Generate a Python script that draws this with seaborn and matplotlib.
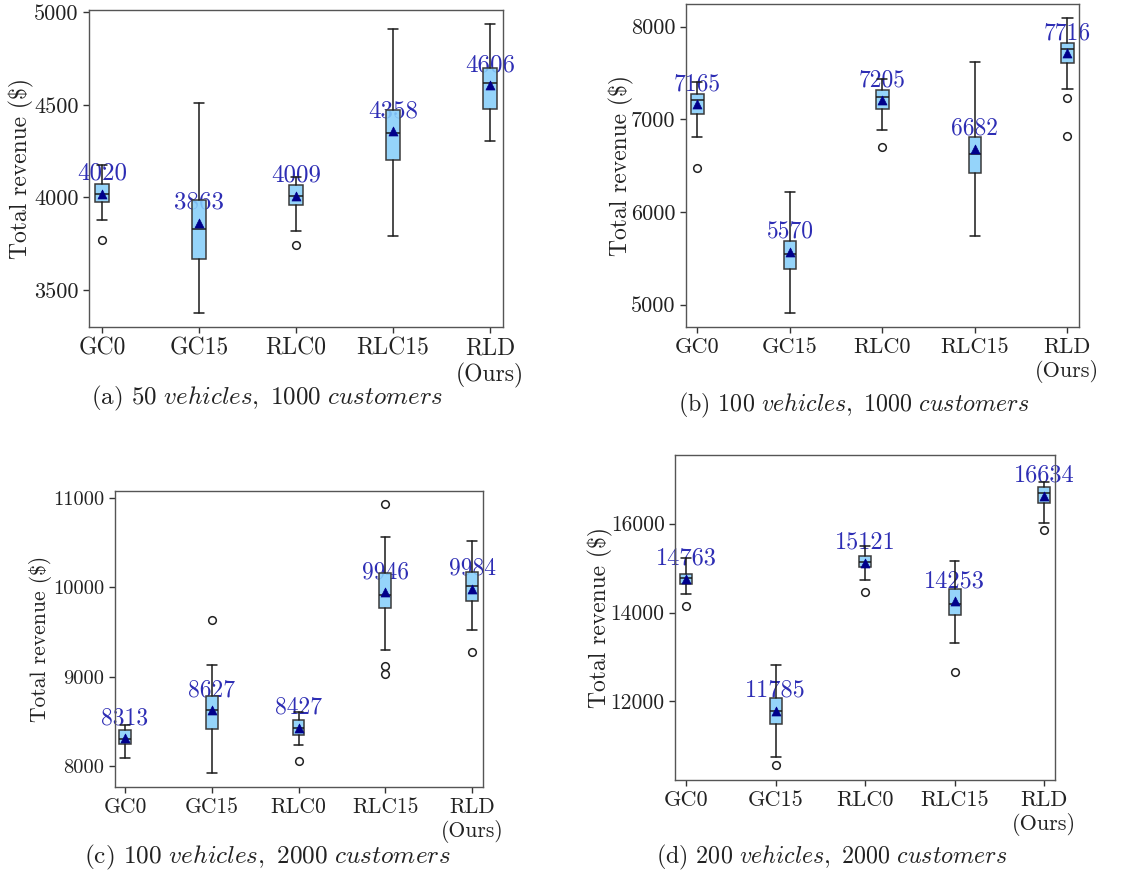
import matplotlib
matplotlib.use("Agg")
import matplotlib.pyplot as plt
import seaborn as sns
import pandas as pd

categories = ["GC0", "GC15", "RLC0", "RLC15", "RLD\n(Ours)"]

# (a) 50 vehicles, 1000 customers
means_a = [4020, 3863, 4009, 4358, 4606]
q1_a = [3975, 3666, 3958, 4202, 4478]
med_a = [4020, 3830, 4009, 4347, 4617]
q3_a = [4070, 3985, 4069, 4470, 4700]
lo_a = [3877, 3374, 3821, 3792, 4303]
hi_a = [4175, 4511, 4110, 4908, 4937]
fl_a = [[3771], [], [3744], [], []]
yticks_a = [3500, 4000, 4500, 5000]

# (b) 100 vehicles, 1000 customers
means_b = [7165, 5570, 7205, 6682, 7716]
q1_b = [7060, 5386, 7107, 6419, 7611]
med_b = [7208, 5551, 7237, 6621, 7755]
q3_b = [7269, 5690, 7312, 6812, 7827]
lo_b = [6808, 4910, 6880, 5739, 7323]
hi_b = [7400, 6218, 7440, 7615, 8090]
fl_b = [[6480], [], [6704], [], [7226, 6819]]
yticks_b = [5000, 6000, 7000, 8000]

# (c) 100 vehicles, 2000 customers
means_c = [8313, 8627, 8427, 9946, 9984]
q1_c = [8249, 8413, 8342, 9770, 9844]
med_c = [8305, 8625, 8420, 9907, 10011]
q3_c = [8398, 8785, 8513, 10160, 10167]
lo_c = [8090, 7922, 8235, 9298, 9517]
hi_c = [8460, 9130, 8600, 10561, 10513]
fl_c = [[], [9636], [8052], [10929, 9115, 9026], [9272]]
yticks_c = [8000, 9000, 10000, 11000]

# (d) 200 vehicles, 2000 customers
means_d = [14763, 11785, 15121, 14253, 16634]
q1_d = [14649, 11482, 15017, 13944, 16458]
med_d = [14777, 11790, 15137, 14199, 16698]
q3_d = [14867, 12067, 15265, 14529, 16826]
lo_d = [14424, 10746, 14732, 13306, 16023]
hi_d = [15220, 12810, 15497, 15159, 16946]
fl_d = [[14146], [10566], [14454], [12653], [15850]]
yticks_d = [12000, 14000, 16000]

captions = ["50 vehicles, 1000 customers", "100 vehicles, 1000 customers",
            "100 vehicles, 2000 customers", "200 vehicles, 2000 customers"]
letters = ["a", "b", "c", "d"]

sns.set_theme(style="white")
plt.rcParams.update({
    "font.family": "serif",
    "font.serif": ["cmr10"],
    "mathtext.fontset": "cm",
    "axes.formatter.use_mathtext": True,
    "axes.unicode_minus": False,
    "axes.edgecolor": "#555555",
    "axes.linewidth": 1.0,
    "xtick.bottom": True,
    "ytick.left": True,
    "xtick.major.size": 4,
    "ytick.major.size": 4,
    "xtick.major.width": 1.0,
    "ytick.major.width": 1.0,
    "xtick.color": "#333333",
    "ytick.color": "#333333",
    "xtick.labelcolor": "#222222",
    "ytick.labelcolor": "#222222",
})

W, H = 1148, 874
fig = plt.figure(figsize=(W / 100, H / 100), dpi=100)

panels = [
    dict(data=(means_a, q1_a, med_a, q3_a, lo_a, hi_a, fl_a), yticks=yticks_a,
         box=(89, 10, 503, 327), ylim=(3300, 5012), xlim=(0.866, 5.134),
         lab=-0.132, cap=(267, 398), fs=(17, 16, 17, 18, 18)),
    dict(data=(means_b, q1_b, med_b, q3_b, lo_b, hi_b, fl_b), yticks=yticks_b,
         box=(686, 4, 1079, 327), ylim=(4759, 8245), xlim=(0.877, 5.125),
         lab=-0.132, cap=(854, 405), fs=(16, 16, 17, 17, 17.3)),
    dict(data=(means_c, q1_c, med_c, q3_c, lo_c, hi_c, fl_c), yticks=yticks_c,
         box=(115, 491, 483, 787), ylim=(7766, 11074), xlim=(0.885, 5.125),
         lab=-0.17, cap=(267, 857), fs=(15.5, 14.7, 15.5, 17, 18.2)),
    dict(data=(means_d, q1_d, med_d, q3_d, lo_d, hi_d, fl_d), yticks=yticks_d,
         box=(675, 455, 1055, 780), ylim=(10229, 17546), xlim=(0.874, 5.123),
         lab=-0.164, cap=(832, 857), fs=(16, 15.5, 17, 17.5, 17.3)),
]

positions = [1, 2, 3, 4, 5]

for k, p in enumerate(panels):
    l, t, r, b = p["box"]
    fs_xt, fs_yt, fs_yl, fs_ann, fs_cap = p["fs"]
    ax = fig.add_axes([l / W, 1 - b / H, (r - l) / W, (b - t) / H])
    means, q1, med, q3, lo, hi, fl = p["data"]
    stats = []
    for i in range(5):
        stats.append(dict(label=categories[i], q1=q1[i], med=med[i], q3=q3[i],
                          whislo=lo[i], whishi=hi[i], mean=means[i], fliers=fl[i]))
    ax.bxp(stats, positions=positions, widths=0.135, capwidths=0.11,
           patch_artist=True, showmeans=False,
           boxprops=dict(facecolor=(0.53, 0.81, 0.98, 0.88), edgecolor="#3a3a3a", linewidth=1.1),
           medianprops=dict(color="#1a1a1a", linewidth=1.1),
           whiskerprops=dict(color="#1a1a1a", linewidth=1.1),
           capprops=dict(color="#1a1a1a", linewidth=1.1),
           flierprops=dict(marker="o", markerfacecolor="none", markeredgecolor="#222222",
                           markersize=5.5, markeredgewidth=1.1),
           zorder=2)
    df = pd.DataFrame({"pos": positions, "mean": means})
    sns.scatterplot(data=df, x="pos", y="mean", marker="^", s=42, color="#00008B",
                    edgecolor="#00008B", linewidth=0.5, zorder=4, ax=ax, legend=False)
    for x, m in zip(positions, means):
        ax.annotate(f"{m}", xy=(x, m), xytext=(0, 10), textcoords="offset points",
                    ha="center", va="baseline", fontsize=fs_ann, color="#2d2db4", zorder=1)
    ax.set_xlim(*p["xlim"])
    ax.set_ylim(*p["ylim"])
    ax.set_xticks(positions)
    ax.set_xticklabels(categories, fontsize=fs_xt)
    ax.set_yticks(p["yticks"])
    ax.set_yticklabels([str(v) for v in p["yticks"]], fontsize=fs_yt)
    ax.set_xlabel("")
    ax.set_ylabel("Total revenue ($)", fontsize=fs_yl, color="#222222")
    ax.yaxis.set_label_coords(p["lab"], 0.5)
    cx, cy = p["cap"]
    fig.text(cx / W, 1 - cy / H,
             "(" + letters[k] + r") $\mathit{" + captions[k].replace(" ", r"\ ") + "}$",
             ha="center", va="center", fontsize=fs_cap, color="#222222")

fig.savefig("out.png", dpi=100)
